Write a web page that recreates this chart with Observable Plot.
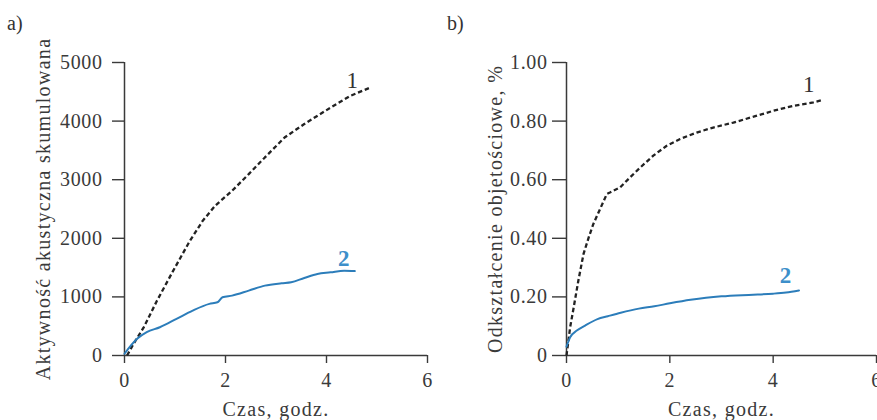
<!DOCTYPE html>
<html><head><meta charset="utf-8">
<script src="https://cdn.jsdelivr.net/npm/d3@7"></script>
<script src="https://cdn.jsdelivr.net/npm/@observablehq/plot@0.6"></script>
<style>
body{margin:0;background:#fff;}
#wrap{position:relative;width:877px;height:420px;overflow:hidden;background:#fff;font-family:"Liberation Serif","Times New Roman",Tinos,"DejaVu Serif",serif;color:#333;}
.panel{position:absolute;top:0;}
.tag{position:absolute;font-size:20px;line-height:20px;top:13px;color:#333;}
#wrap svg, #wrap svg text{font-family:"Liberation Serif","Times New Roman",Tinos,"DejaVu Serif",serif !important;}
g[aria-label="y-axis label"] text, g[aria-label="x-axis label"] text{letter-spacing:1.3px;}
g[aria-label="y-axis tick label"] text, g[aria-label="x-axis tick label"] text{letter-spacing:0.6px;}
g[aria-label$="axis tick"] path{stroke-width:1.4px;}
</style></head>
<body><div id="wrap">
<div class="tag" style="left:7px">a)</div>
<div class="tag" style="left:447px">b)</div>
<div id="pa" class="panel" style="left:0"></div>
<div id="pb" class="panel" style="left:438px"></div>
</div>
<script>
// Shared axis ticks
const timeTicks = [0, 2, 4, 6];
const aeTicks = [0, 1000, 2000, 3000, 4000, 5000];
const strainTicks = [0, 0.2, 0.4, 0.6, 0.8, 1.0];

// Panel a) cumulative acoustic activity
const timeA1 = [0.05, 0.18, 0.38, 0.64, 0.96, 1.29, 1.55, 1.8, 2.13, 2.46, 2.78, 3.17, 3.56, 4.08, 4.47, 4.86];
const aeA1   = [0, 200, 480, 930, 1440, 1950, 2300, 2560, 2810, 3095, 3380, 3720, 3950, 4230, 4430, 4570];
const timeA2 = [0, 0.25, 0.44, 0.70, 1.03, 1.35, 1.68, 1.84, 1.94, 2.13, 2.46, 2.78, 3.11, 3.30, 3.56, 3.82, 4.08, 4.35, 4.56];
const aeA2   = [30, 284, 397, 482, 625, 767, 881, 908, 993, 1022, 1107, 1192, 1232, 1249, 1323, 1392, 1419, 1448, 1440];

// Panel b) volumetric strain
const timeB1   = [0, 0.07, 0.14, 0.23, 0.33, 0.43, 0.52, 0.65, 0.78, 0.85, 1.04, 1.23, 1.43, 1.68, 1.94, 2.20, 2.52, 2.84, 3.23, 3.62, 4.00, 4.39, 4.78, 4.97];
const strainB1 = [0, 0.096, 0.165, 0.256, 0.347, 0.403, 0.449, 0.500, 0.551, 0.557, 0.574, 0.608, 0.642, 0.682, 0.716, 0.739, 0.761, 0.778, 0.795, 0.815, 0.835, 0.852, 0.864, 0.873];
const timeB2   = [0, 0.07, 0.2, 0.36, 0.6, 0.8, 1.05, 1.4, 1.7, 2.0, 2.4, 2.7, 3.0, 3.4, 3.7, 4.0, 4.25, 4.5];
const strainB2 = [0.03, 0.062, 0.085, 0.102, 0.124, 0.134, 0.146, 0.16, 0.168, 0.178, 0.19, 0.197, 0.202, 0.206, 0.208, 0.211, 0.215, 0.222];

// Curve labels
const curveNames = ["1", "2"];
const labelTimeA = [4.51, 4.34];
const labelAeA = [4685, 1652];
const labelTimeB = [4.69, 4.24];
const labelStrainB = [0.926, 0.273];

const BLACK = "#222";
const BLUE = "#2c7dba";
const BLUE_LABEL = "#3d8fca";
const AXIS = "#3a3a3a";
const FONT = "Liberation Serif, Times New Roman, Tinos, DejaVu Serif, serif";

const toRows = (xs, ys) => xs.map((x, i) => ({x, y: ys[i]}));
const labelRows = (xs, ys) => xs.map((x, i) => ({x, y: ys[i], t: curveNames[i]}));

function panel({width, marginLeft, marginRight, yDomain, yTicks, yFormat, yLabel, yLabelOffset, yTickSize, yTickPadding, s1, s2, labels}) {
  return Plot.plot({
    width, height: 420,
    marginLeft, marginRight, marginTop: 62, marginBottom: 65,
    style: {fontFamily: FONT, fontSize: "20px", color: AXIS, background: "transparent"},
    x: {domain: [0, 6], ticks: timeTicks, tickFormat: d => String(d), tickSize: 8, tickPadding: 9,
        label: "Czas, godz.", labelAnchor: "center", labelOffset: 60, labelArrow: "none"},
    y: {domain: yDomain, ticks: yTicks, tickFormat: yFormat, tickSize: yTickSize, tickPadding: yTickPadding,
        label: yLabel, labelAnchor: "center", labelOffset: yLabelOffset, labelArrow: "none"},
    marks: [
      Plot.ruleY([yDomain[0]], {stroke: AXIS, strokeWidth: 1.5}),
      Plot.ruleX([0], {stroke: AXIS, strokeWidth: 1.5}),
      Plot.line(s1, {x: "x", y: "y", stroke: BLACK, strokeWidth: 2.3, strokeDasharray: "4.5,2.8", strokeLinecap: "butt", strokeLinejoin: "miter", curve: "linear"}),
      Plot.line(s2, {x: "x", y: "y", stroke: BLUE, strokeWidth: 2, curve: "monotone-x"}),
      Plot.text([labels[0]], {x: "x", y: "y", text: "t", fill: "#333", fontSize: 23, fontFamily: FONT}),
      Plot.text([labels[1]], {x: "x", y: "y", text: "t", fill: BLUE_LABEL, fontSize: 23, fontWeight: "bold", fontFamily: FONT})
    ]
  });
}

const la = labelRows(labelTimeA, labelAeA);
document.getElementById("pa").append(panel({
  width: 438, marginLeft: 124, marginRight: 11,
  yDomain: [0, 5000], yTicks: aeTicks, yFormat: d => String(d),
  yLabel: "Aktywność akustyczna skumulowana", yLabelOffset: 89, yTickSize: 12, yTickPadding: 10,
  s1: toRows(timeA1, aeA1), s2: toRows(timeA2, aeA2), labels: la
}));

const lb = labelRows(labelTimeB, labelStrainB);
document.getElementById("pb").append(panel({
  width: 439, marginLeft: 128, marginRight: 1,
  yDomain: [0, 1], yTicks: strainTicks, yFormat: d => d === 0 ? "0" : d.toFixed(2),
  yLabel: "Odkształcenie objetościowe, %", yLabelOffset: 79, yTickSize: 14, yTickPadding: 5,
  s1: toRows(timeB1, strainB1), s2: toRows(timeB2, strainB2), labels: lb
}));
</script>
</body></html>
